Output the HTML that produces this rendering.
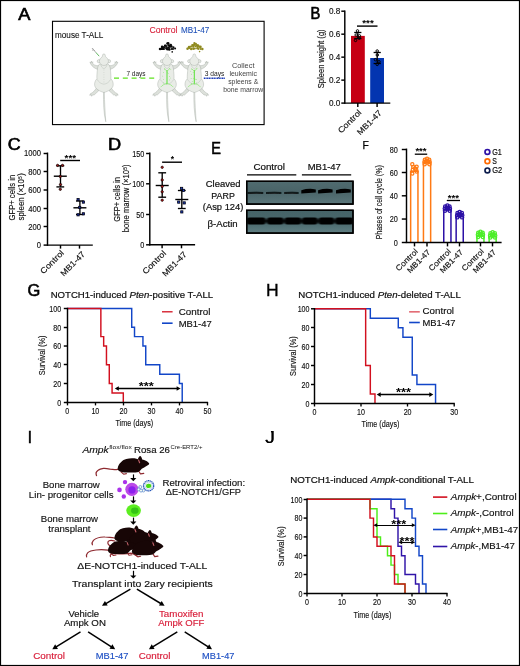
<!DOCTYPE html>
<html lang="en">
<head>
<meta charset="utf-8">
<title>Figure</title>
<style>
html,body{margin:0;padding:0;background:#fff;}
body{width:520px;height:666px;overflow:hidden;}
svg{display:block;font-family:'Liberation Sans', sans-serif;}
text{white-space:pre;}
</style>
</head>
<body>
<svg width="520" height="666" viewBox="0 0 520 666">
<rect x="0" y="0" width="520" height="666" fill="#fff"/>
<text textLength="12.15" lengthAdjust="spacingAndGlyphs" x="18.30" y="20.00" font-size="17" stroke="#000" stroke-width="0.65">A</text>
<rect x="52.50" y="21.30" width="211.60" height="103.30" fill="none" stroke="#000" stroke-width="1.1"/>
<text textLength="48.40" lengthAdjust="spacingAndGlyphs" x="55.00" y="38.00" font-size="8.2" fill="#111" stroke="#111" stroke-width="0.1">mouse T-ALL</text>
<text textLength="28.10" lengthAdjust="spacingAndGlyphs" x="149.40" y="33.00" font-size="8.2" fill="#d8203a" stroke="#d8203a" stroke-width="0.1">Control</text>
<text textLength="28.30" lengthAdjust="spacingAndGlyphs" x="181.00" y="32.80" font-size="8.2" fill="#1d4fb8" stroke="#1d4fb8" stroke-width="0.1">MB1-47</text>
<text textLength="19.10" lengthAdjust="spacingAndGlyphs" x="126.40" y="76.20" font-size="6.3" fill="#222">7 days</text>
<text textLength="19.60" lengthAdjust="spacingAndGlyphs" x="204.70" y="75.80" font-size="6.3" fill="#222">3 days</text>
<text textLength="22.50" lengthAdjust="spacingAndGlyphs" x="231.95" y="67.90" font-size="6.3" fill="#444">Collect</text>
<text textLength="27.50" lengthAdjust="spacingAndGlyphs" x="229.45" y="75.85" font-size="6.3" fill="#444">leukemic</text>
<text textLength="30.00" lengthAdjust="spacingAndGlyphs" x="228.20" y="83.80" font-size="6.3" fill="#444">spleens &amp;</text>
<text textLength="40.00" lengthAdjust="spacingAndGlyphs" x="223.20" y="91.75" font-size="6.3" fill="#444">bone marrow</text>
<line x1="114" y1="78.1" x2="157" y2="78.1" stroke="#5fe21e" stroke-width="1.3" stroke-dasharray="5 3.8"/>
<line x1="203.8" y1="78.2" x2="225.2" y2="78.2" stroke="#1838b8" stroke-width="1.4" stroke-dasharray="1.2 0.45"/>
<g transform="translate(103.90 53.60)" fill="#e9ece7" stroke="#9ea79e" stroke-width="0.4" stroke-linejoin="round">
<path d="M-0.4 38.3 C-0.55 48 -0.3 60 1.9 68.2 C1.3 60 0.5 48 0.45 38.3 Z"/>
<path d="M-7.6 34.6 C-9.0 36.8 -10.5 38.8 -13.6 40.2 L-14.2 41.7 L-12.6 41.3 L-12.2 42.7 L-11.2 41.2 L-9.8 41.4 C-8.5 40.2 -7.0 38.8 -5.2 37.2 Z" fill="#dde1db"/>
<path d="M7.6 34.6 C9.0 36.8 10.5 38.8 13.6 40.2 L14.2 41.7 L12.6 41.3 L12.2 42.7 L11.2 41.2 L9.8 41.4 C8.5 40.2 7.0 38.8 5.2 37.2 Z" fill="#dde1db"/>
<path d="M-4.2 11.4 C-6.5 12.6 -9.0 12.2 -11.2 9.9 L-11.1 8.2 L-11.9 9.0 L-12.4 7.4 L-13.0 9.0 L-14.0 8.4 L-13.2 10.4 C-11.5 13.2 -9.0 15 -6.2 15.8 Z" fill="#dde1db"/>
<path d="M4.2 11.4 C6.5 12.6 9.0 12.2 11.2 9.9 L11.1 8.2 L11.9 9.0 L12.4 7.4 L13.0 9.0 L14.0 8.4 L13.2 10.4 C11.5 13.2 9.0 15 6.2 15.8 Z" fill="#dde1db"/>
<path d="M-3.4 9.6 C-5 10.8 -6.1 12.6 -6.4 15 C-6.8 19 -7.2 22.5 -7.0 25.2 C-8.9 27 -9.6 29.6 -9.2 32 C-8.6 35.2 -4.6 37.6 0 38.9 C4.6 37.6 8.6 35.2 9.2 32 C9.6 29.6 8.9 27 7.0 25.2 C7.2 22.5 6.8 19 6.4 15 C6.1 12.6 5 10.8 3.4 9.6 Z"/>
<ellipse cx="-5.0" cy="7.6" rx="1.7" ry="1.6"/><ellipse cx="5.0" cy="7.6" rx="1.7" ry="1.6"/>
<path d="M0 0.3 C0.9 0.3 1.4 0.9 1.4 1.7 C1.4 2.3 1.2 2.7 1.6 3.1 C3.4 4.2 4.6 6 4.5 8 C4.2 10.4 2.4 11.8 0 11.9 C-2.4 11.8 -4.2 10.4 -4.5 8 C-4.6 6 -3.4 4.2 -1.6 3.1 C-1.2 2.7 -1.4 2.3 -1.4 1.7 C-1.4 0.9 -0.9 0.3 0 0.3 Z"/>
<path d="M-3.3 10.4 C-2.9 13 -1.5 14.6 0 15 C1.5 14.6 2.9 13 3.3 10.4 M-6.9 25.6 C-5 28.8 -3 30.2 0 30.6 C3 30.2 5 28.8 6.9 25.6" fill="none" stroke-width="0.3"/>
<path d="M0 16 L0 30" fill="none" stroke-width="0.3" stroke-dasharray="0.8 1.6"/>
</g>
<g transform="translate(167.00 53.60)" fill="#e9ece7" stroke="#9ea79e" stroke-width="0.4" stroke-linejoin="round">
<path d="M-0.4 38.3 C-0.55 48 -0.3 60 1.9 68.2 C1.3 60 0.5 48 0.45 38.3 Z"/>
<path d="M-7.6 34.6 C-9.0 36.8 -10.5 38.8 -13.6 40.2 L-14.2 41.7 L-12.6 41.3 L-12.2 42.7 L-11.2 41.2 L-9.8 41.4 C-8.5 40.2 -7.0 38.8 -5.2 37.2 Z" fill="#dde1db"/>
<path d="M7.6 34.6 C9.0 36.8 10.5 38.8 13.6 40.2 L14.2 41.7 L12.6 41.3 L12.2 42.7 L11.2 41.2 L9.8 41.4 C8.5 40.2 7.0 38.8 5.2 37.2 Z" fill="#dde1db"/>
<path d="M-4.2 11.4 C-6.5 12.6 -9.0 12.2 -11.2 9.9 L-11.1 8.2 L-11.9 9.0 L-12.4 7.4 L-13.0 9.0 L-14.0 8.4 L-13.2 10.4 C-11.5 13.2 -9.0 15 -6.2 15.8 Z" fill="#dde1db"/>
<path d="M4.2 11.4 C6.5 12.6 9.0 12.2 11.2 9.9 L11.1 8.2 L11.9 9.0 L12.4 7.4 L13.0 9.0 L14.0 8.4 L13.2 10.4 C11.5 13.2 9.0 15 6.2 15.8 Z" fill="#dde1db"/>
<path d="M-3.4 9.6 C-5 10.8 -6.1 12.6 -6.4 15 C-6.8 19 -7.2 22.5 -7.0 25.2 C-8.9 27 -9.6 29.6 -9.2 32 C-8.6 35.2 -4.6 37.6 0 38.9 C4.6 37.6 8.6 35.2 9.2 32 C9.6 29.6 8.9 27 7.0 25.2 C7.2 22.5 6.8 19 6.4 15 C6.1 12.6 5 10.8 3.4 9.6 Z"/>
<ellipse cx="-5.0" cy="7.6" rx="1.7" ry="1.6"/><ellipse cx="5.0" cy="7.6" rx="1.7" ry="1.6"/>
<path d="M0 0.3 C0.9 0.3 1.4 0.9 1.4 1.7 C1.4 2.3 1.2 2.7 1.6 3.1 C3.4 4.2 4.6 6 4.5 8 C4.2 10.4 2.4 11.8 0 11.9 C-2.4 11.8 -4.2 10.4 -4.5 8 C-4.6 6 -3.4 4.2 -1.6 3.1 C-1.2 2.7 -1.4 2.3 -1.4 1.7 C-1.4 0.9 -0.9 0.3 0 0.3 Z"/>
<path d="M-3.3 10.4 C-2.9 13 -1.5 14.6 0 15 C1.5 14.6 2.9 13 3.3 10.4 M-6.9 25.6 C-5 28.8 -3 30.2 0 30.6 C3 30.2 5 28.8 6.9 25.6" fill="none" stroke-width="0.3"/>
<path d="M0 16.6 L0 30.2" fill="none" stroke="#46e020" stroke-width="0.9"/>
<path d="M0 30 C-2.5 30.4 -4.6 31.4 -6.4 33.6 M0 30 C2.5 30.4 4.6 31.4 6.4 33.6 M0 17.6 L-3.0 14.8 M0 17.6 L3.0 14.8" fill="none" stroke="#66e644" stroke-width="0.5"/>
<circle cx="-2.3" cy="15.5" r="0.33" fill="#4fe02a" stroke="none"/>
<circle cx="-0.6" cy="30.4" r="0.33" fill="#4fe02a" stroke="none"/>
<circle cx="2.3" cy="26.3" r="0.33" fill="#4fe02a" stroke="none"/>
<circle cx="2.6" cy="22.8" r="0.33" fill="#4fe02a" stroke="none"/>
<circle cx="3.6" cy="24.4" r="0.33" fill="#4fe02a" stroke="none"/>
<circle cx="-0.1" cy="29.4" r="0.33" fill="#4fe02a" stroke="none"/>
<circle cx="-3.7" cy="26.0" r="0.33" fill="#4fe02a" stroke="none"/>
<circle cx="-3.4" cy="19.1" r="0.33" fill="#4fe02a" stroke="none"/>
<circle cx="2.4" cy="14.9" r="0.33" fill="#4fe02a" stroke="none"/>
<circle cx="0.2" cy="18.9" r="0.33" fill="#4fe02a" stroke="none"/>
<circle cx="-3.5" cy="29.3" r="0.33" fill="#4fe02a" stroke="none"/>
<circle cx="-4.2" cy="22.5" r="0.33" fill="#4fe02a" stroke="none"/>
<circle cx="3.8" cy="15.6" r="0.33" fill="#4fe02a" stroke="none"/>
<circle cx="1.1" cy="20.1" r="0.33" fill="#4fe02a" stroke="none"/>
</g>
<g transform="translate(194.30 53.60)" fill="#e9ece7" stroke="#9ea79e" stroke-width="0.4" stroke-linejoin="round">
<path d="M-0.4 38.3 C-0.55 48 -0.3 60 1.9 68.2 C1.3 60 0.5 48 0.45 38.3 Z"/>
<path d="M-7.6 34.6 C-9.0 36.8 -10.5 38.8 -13.6 40.2 L-14.2 41.7 L-12.6 41.3 L-12.2 42.7 L-11.2 41.2 L-9.8 41.4 C-8.5 40.2 -7.0 38.8 -5.2 37.2 Z" fill="#dde1db"/>
<path d="M7.6 34.6 C9.0 36.8 10.5 38.8 13.6 40.2 L14.2 41.7 L12.6 41.3 L12.2 42.7 L11.2 41.2 L9.8 41.4 C8.5 40.2 7.0 38.8 5.2 37.2 Z" fill="#dde1db"/>
<path d="M-4.2 11.4 C-6.5 12.6 -9.0 12.2 -11.2 9.9 L-11.1 8.2 L-11.9 9.0 L-12.4 7.4 L-13.0 9.0 L-14.0 8.4 L-13.2 10.4 C-11.5 13.2 -9.0 15 -6.2 15.8 Z" fill="#dde1db"/>
<path d="M4.2 11.4 C6.5 12.6 9.0 12.2 11.2 9.9 L11.1 8.2 L11.9 9.0 L12.4 7.4 L13.0 9.0 L14.0 8.4 L13.2 10.4 C11.5 13.2 9.0 15 6.2 15.8 Z" fill="#dde1db"/>
<path d="M-3.4 9.6 C-5 10.8 -6.1 12.6 -6.4 15 C-6.8 19 -7.2 22.5 -7.0 25.2 C-8.9 27 -9.6 29.6 -9.2 32 C-8.6 35.2 -4.6 37.6 0 38.9 C4.6 37.6 8.6 35.2 9.2 32 C9.6 29.6 8.9 27 7.0 25.2 C7.2 22.5 6.8 19 6.4 15 C6.1 12.6 5 10.8 3.4 9.6 Z"/>
<ellipse cx="-5.0" cy="7.6" rx="1.7" ry="1.6"/><ellipse cx="5.0" cy="7.6" rx="1.7" ry="1.6"/>
<path d="M0 0.3 C0.9 0.3 1.4 0.9 1.4 1.7 C1.4 2.3 1.2 2.7 1.6 3.1 C3.4 4.2 4.6 6 4.5 8 C4.2 10.4 2.4 11.8 0 11.9 C-2.4 11.8 -4.2 10.4 -4.5 8 C-4.6 6 -3.4 4.2 -1.6 3.1 C-1.2 2.7 -1.4 2.3 -1.4 1.7 C-1.4 0.9 -0.9 0.3 0 0.3 Z"/>
<path d="M-3.3 10.4 C-2.9 13 -1.5 14.6 0 15 C1.5 14.6 2.9 13 3.3 10.4 M-6.9 25.6 C-5 28.8 -3 30.2 0 30.6 C3 30.2 5 28.8 6.9 25.6" fill="none" stroke-width="0.3"/>
<path d="M0 16.6 L0 30.2" fill="none" stroke="#46e020" stroke-width="0.9"/>
<path d="M0 30 C-2.5 30.4 -4.6 31.4 -6.4 33.6 M0 30 C2.5 30.4 4.6 31.4 6.4 33.6 M0 17.6 L-3.0 14.8 M0 17.6 L3.0 14.8" fill="none" stroke="#66e644" stroke-width="0.5"/>
<circle cx="2.6" cy="15.1" r="0.33" fill="#4fe02a" stroke="none"/>
<circle cx="-2.9" cy="20.6" r="0.33" fill="#4fe02a" stroke="none"/>
<circle cx="-2.1" cy="28.1" r="0.33" fill="#4fe02a" stroke="none"/>
<circle cx="2.0" cy="29.3" r="0.33" fill="#4fe02a" stroke="none"/>
<circle cx="0.4" cy="30.9" r="0.33" fill="#4fe02a" stroke="none"/>
<circle cx="-1.1" cy="24.8" r="0.33" fill="#4fe02a" stroke="none"/>
<circle cx="1.1" cy="25.6" r="0.33" fill="#4fe02a" stroke="none"/>
<circle cx="-3.2" cy="24.7" r="0.33" fill="#4fe02a" stroke="none"/>
<circle cx="-2.4" cy="15.8" r="0.33" fill="#4fe02a" stroke="none"/>
<circle cx="0.5" cy="16.5" r="0.33" fill="#4fe02a" stroke="none"/>
<circle cx="-1.2" cy="18.7" r="0.33" fill="#4fe02a" stroke="none"/>
<circle cx="-3.5" cy="17.6" r="0.33" fill="#4fe02a" stroke="none"/>
<circle cx="2.2" cy="26.1" r="0.33" fill="#4fe02a" stroke="none"/>
<circle cx="-2.8" cy="29.8" r="0.33" fill="#4fe02a" stroke="none"/>
</g>
<line x1="92.30" y1="48.40" x2="96.20" y2="52.80" stroke="#333" stroke-width="0.7" stroke-dasharray="1.4 0.6"/>
<line x1="96.00" y1="52.60" x2="99.20" y2="56.20" stroke="#3aa83a" stroke-width="0.8"/>
<line x1="93.60" y1="49.20" x2="92.20" y2="50.40" stroke="#555" stroke-width="0.5"/>
<g fill="#0a0a0a">
<circle cx="160.1" cy="49.0" r="1.32"/>
<circle cx="162.0" cy="48.9" r="1.21"/>
<circle cx="163.7" cy="48.9" r="1.22"/>
<circle cx="166.2" cy="48.5" r="1.11"/>
<circle cx="167.4" cy="49.2" r="1.24"/>
<circle cx="169.3" cy="49.4" r="1.34"/>
<circle cx="171.8" cy="49.0" r="1.06"/>
<circle cx="173.0" cy="48.9" r="1.02"/>
<circle cx="175.1" cy="48.6" r="1.01"/>
<circle cx="162.1" cy="46.9" r="1.29"/>
<circle cx="164.0" cy="47.1" r="1.17"/>
<circle cx="166.1" cy="47.0" r="1.10"/>
<circle cx="168.3" cy="47.5" r="1.29"/>
<circle cx="169.9" cy="46.8" r="1.08"/>
<circle cx="171.4" cy="46.6" r="1.27"/>
<circle cx="173.4" cy="47.3" r="1.14"/>
<circle cx="164.9" cy="45.6" r="1.00"/>
<circle cx="165.8" cy="45.7" r="1.16"/>
<circle cx="168.3" cy="45.2" r="1.03"/>
<circle cx="169.6" cy="45.6" r="1.09"/>
<circle cx="170.7" cy="45.1" r="1.34"/>
<circle cx="167.3" cy="43.4" r="1.09"/>
<circle cx="168.2" cy="43.4" r="1.28"/>
<circle cx="172.2" cy="51.9" r="0.8"/>
</g>
<g fill="#8f8a1f">
<circle cx="187.5" cy="48.8" r="1.23"/>
<circle cx="189.1" cy="48.1" r="1.13"/>
<circle cx="191.2" cy="48.9" r="1.24"/>
<circle cx="193.4" cy="48.7" r="1.23"/>
<circle cx="194.8" cy="48.5" r="1.06"/>
<circle cx="197.5" cy="48.2" r="1.29"/>
<circle cx="198.6" cy="48.8" r="1.12"/>
<circle cx="200.8" cy="48.9" r="1.01"/>
<circle cx="202.4" cy="49.0" r="1.18"/>
<circle cx="189.1" cy="47.2" r="1.33"/>
<circle cx="191.0" cy="46.6" r="1.05"/>
<circle cx="193.1" cy="46.8" r="1.06"/>
<circle cx="195.4" cy="46.3" r="1.06"/>
<circle cx="197.4" cy="46.6" r="1.15"/>
<circle cx="199.1" cy="46.7" r="1.13"/>
<circle cx="200.4" cy="46.9" r="1.34"/>
<circle cx="192.3" cy="45.2" r="1.12"/>
<circle cx="193.4" cy="45.2" r="1.24"/>
<circle cx="194.8" cy="44.7" r="1.13"/>
<circle cx="196.9" cy="45.3" r="1.18"/>
<circle cx="198.1" cy="45.3" r="1.15"/>
<circle cx="194.4" cy="43.2" r="1.15"/>
<circle cx="195.9" cy="43.8" r="1.04"/>
<circle cx="199.6" cy="51.6" r="0.8"/>
</g>
<text textLength="9.85" lengthAdjust="spacingAndGlyphs" x="310.50" y="18.60" font-size="17" stroke="#000" stroke-width="0.65">B</text>
<rect x="351.00" y="35.90" width="13.80" height="67.20" fill="#c60014"/>
<rect x="370.20" y="58.00" width="13.80" height="45.10" fill="#0335b0"/>
<line x1="344.80" y1="10.47" x2="344.80" y2="103.82" stroke="#000" stroke-width="1.45"/>
<line x1="341.30" y1="11.20" x2="344.80" y2="11.20" stroke="#000" stroke-width="1.45"/>
<text textLength="11.40" lengthAdjust="spacingAndGlyphs" x="329.00" y="14.42" font-size="9.0" fill="#111" stroke="#111" stroke-width="0.15">0.8</text>
<line x1="341.30" y1="34.18" x2="344.80" y2="34.18" stroke="#000" stroke-width="1.45"/>
<text textLength="11.40" lengthAdjust="spacingAndGlyphs" x="329.00" y="37.40" font-size="9.0" fill="#111" stroke="#111" stroke-width="0.15">0.6</text>
<line x1="341.30" y1="57.15" x2="344.80" y2="57.15" stroke="#000" stroke-width="1.45"/>
<text textLength="11.40" lengthAdjust="spacingAndGlyphs" x="329.00" y="60.37" font-size="9.0" fill="#111" stroke="#111" stroke-width="0.15">0.4</text>
<line x1="341.30" y1="80.13" x2="344.80" y2="80.13" stroke="#000" stroke-width="1.45"/>
<text textLength="11.40" lengthAdjust="spacingAndGlyphs" x="329.00" y="83.35" font-size="9.0" fill="#111" stroke="#111" stroke-width="0.15">0.2</text>
<line x1="341.30" y1="103.10" x2="344.80" y2="103.10" stroke="#000" stroke-width="1.45"/>
<text textLength="11.40" lengthAdjust="spacingAndGlyphs" x="329.00" y="106.32" font-size="9.0" fill="#111" stroke="#111" stroke-width="0.15">0.0</text>
<line x1="344.20" y1="103.10" x2="390.30" y2="103.10" stroke="#000" stroke-width="1.45"/>
<line x1="357.80" y1="103.10" x2="357.80" y2="106.90" stroke="#000" stroke-width="1.45"/>
<line x1="377.10" y1="103.10" x2="377.10" y2="106.90" stroke="#000" stroke-width="1.45"/>
<line x1="357.80" y1="32.80" x2="357.80" y2="38.60" stroke="#000" stroke-width="1.3"/>
<line x1="354.20" y1="32.50" x2="361.40" y2="32.50" stroke="#000" stroke-width="1.3"/>
<line x1="354.20" y1="38.50" x2="361.40" y2="38.50" stroke="#000" stroke-width="1.3"/>
<line x1="377.20" y1="52.80" x2="377.20" y2="63.40" stroke="#000" stroke-width="1.3"/>
<line x1="373.60" y1="52.50" x2="380.80" y2="52.50" stroke="#000" stroke-width="1.3"/>
<line x1="373.60" y1="63.50" x2="380.80" y2="63.50" stroke="#000" stroke-width="1.3"/>
<circle cx="357.50" cy="30.90" r="1.25" fill="none" stroke="#000" stroke-width="0.95"/>
<circle cx="356.20" cy="35.00" r="1.25" fill="none" stroke="#000" stroke-width="0.95"/>
<circle cx="359.40" cy="35.80" r="1.25" fill="none" stroke="#000" stroke-width="0.95"/>
<circle cx="359.30" cy="38.20" r="1.25" fill="none" stroke="#000" stroke-width="0.95"/>
<circle cx="355.50" cy="40.40" r="1.25" fill="none" stroke="#000" stroke-width="0.95"/>
<circle cx="377.20" cy="51.00" r="1.25" fill="none" stroke="#000" stroke-width="0.95"/>
<circle cx="377.30" cy="55.00" r="1.25" fill="none" stroke="#000" stroke-width="0.95"/>
<circle cx="375.40" cy="59.70" r="1.25" fill="none" stroke="#000" stroke-width="0.95"/>
<circle cx="379.00" cy="61.80" r="1.25" fill="none" stroke="#000" stroke-width="0.95"/>
<circle cx="377.20" cy="64.40" r="1.25" fill="none" stroke="#000" stroke-width="0.95"/>
<line x1="357.00" y1="26.10" x2="377.50" y2="26.10" stroke="#000" stroke-width="1.4"/>
<text textLength="11.40" lengthAdjust="spacingAndGlyphs" x="362.30" y="26.20" font-size="8.5" font-weight="bold">***</text>
<text textLength="58.80" lengthAdjust="spacingAndGlyphs" transform="translate(323.50 58.80) rotate(-90)" x="-29.40" y="0" font-size="9.4" fill="#111" stroke="#111" stroke-width="0.15">Spleen weight (g)</text>
<text textLength="29.40" lengthAdjust="spacingAndGlyphs" transform="translate(362.00 113.00) rotate(-45)" x="-29.40" y="0" font-size="8.2" fill="#111" stroke="#111" stroke-width="0.15">Control</text>
<text textLength="31.00" lengthAdjust="spacingAndGlyphs" transform="translate(382.20 113.60) rotate(-45)" x="-31.00" y="0" font-size="8.2" fill="#111" stroke="#111" stroke-width="0.15">MB1-47</text>
<text textLength="12.85" lengthAdjust="spacingAndGlyphs" x="7.70" y="149.60" font-size="17" stroke="#000" stroke-width="0.65">C</text>
<line x1="47.50" y1="152.58" x2="47.50" y2="245.82" stroke="#000" stroke-width="1.45"/>
<line x1="43.60" y1="153.50" x2="47.60" y2="153.50" stroke="#000" stroke-width="1.45"/>
<text textLength="17.00" lengthAdjust="spacingAndGlyphs" x="24.00" y="156.45" font-size="8.8" fill="#111" stroke="#111" stroke-width="0.15">1000</text>
<line x1="43.60" y1="171.50" x2="47.60" y2="171.50" stroke="#000" stroke-width="1.45"/>
<text textLength="12.75" lengthAdjust="spacingAndGlyphs" x="28.25" y="174.80" font-size="8.8" fill="#111" stroke="#111" stroke-width="0.15">800</text>
<line x1="43.60" y1="190.00" x2="47.60" y2="190.00" stroke="#000" stroke-width="1.45"/>
<text textLength="12.75" lengthAdjust="spacingAndGlyphs" x="28.25" y="193.15" font-size="8.8" fill="#111" stroke="#111" stroke-width="0.15">600</text>
<line x1="43.60" y1="208.50" x2="47.60" y2="208.50" stroke="#000" stroke-width="1.45"/>
<text textLength="12.75" lengthAdjust="spacingAndGlyphs" x="28.25" y="211.55" font-size="8.8" fill="#111" stroke="#111" stroke-width="0.15">400</text>
<line x1="43.60" y1="226.50" x2="47.60" y2="226.50" stroke="#000" stroke-width="1.45"/>
<text textLength="12.75" lengthAdjust="spacingAndGlyphs" x="28.25" y="229.90" font-size="8.8" fill="#111" stroke="#111" stroke-width="0.15">200</text>
<line x1="43.60" y1="245.10" x2="47.60" y2="245.10" stroke="#000" stroke-width="1.45"/>
<text textLength="4.25" lengthAdjust="spacingAndGlyphs" x="36.75" y="248.25" font-size="8.8" fill="#111" stroke="#111" stroke-width="0.15">0</text>
<line x1="47.00" y1="245.10" x2="92.80" y2="245.10" stroke="#000" stroke-width="1.45"/>
<line x1="60.50" y1="245.10" x2="60.50" y2="248.60" stroke="#000" stroke-width="1.45"/>
<line x1="79.50" y1="245.10" x2="79.50" y2="248.60" stroke="#000" stroke-width="1.45"/>
<line x1="60.50" y1="165.80" x2="60.50" y2="186.90" stroke="#000" stroke-width="1.35"/>
<line x1="56.40" y1="165.80" x2="64.20" y2="165.80" stroke="#000" stroke-width="1.35"/>
<line x1="56.40" y1="186.90" x2="64.20" y2="186.90" stroke="#000" stroke-width="1.35"/>
<line x1="53.80" y1="176.20" x2="66.80" y2="176.20" stroke="#000" stroke-width="1.4"/>
<circle cx="57.60" cy="165.40" r="1.15" fill="#a01818" stroke="#140303" stroke-width="0.8"/>
<circle cx="62.50" cy="165.40" r="1.15" fill="#a01818" stroke="#140303" stroke-width="0.8"/>
<circle cx="60.30" cy="176.40" r="1.15" fill="#a01818" stroke="#140303" stroke-width="0.8"/>
<circle cx="60.50" cy="184.60" r="1.15" fill="#a01818" stroke="#140303" stroke-width="0.8"/>
<circle cx="60.30" cy="189.30" r="1.15" fill="#a01818" stroke="#140303" stroke-width="0.8"/>
<line x1="79.90" y1="201.00" x2="79.90" y2="214.60" stroke="#000" stroke-width="1.35"/>
<line x1="76.00" y1="201.00" x2="83.80" y2="201.00" stroke="#000" stroke-width="1.35"/>
<line x1="76.00" y1="214.50" x2="83.80" y2="214.50" stroke="#000" stroke-width="1.35"/>
<line x1="73.40" y1="207.80" x2="86.40" y2="207.80" stroke="#000" stroke-width="1.4"/>
<rect x="77.00" y="198.50" width="2.20" height="2.20" fill="#1a2fa0" stroke="#030314" stroke-width="0.8"/>
<rect x="82.30" y="201.00" width="2.20" height="2.20" fill="#1a2fa0" stroke="#030314" stroke-width="0.8"/>
<rect x="78.60" y="206.30" width="2.20" height="2.20" fill="#1a2fa0" stroke="#030314" stroke-width="0.8"/>
<rect x="77.00" y="213.70" width="2.20" height="2.20" fill="#1a2fa0" stroke="#030314" stroke-width="0.8"/>
<rect x="82.30" y="212.70" width="2.20" height="2.20" fill="#1a2fa0" stroke="#030314" stroke-width="0.8"/>
<line x1="60.20" y1="160.50" x2="80.00" y2="160.50" stroke="#000" stroke-width="1.4"/>
<text textLength="11.40" lengthAdjust="spacingAndGlyphs" x="64.60" y="160.60" font-size="8.5" font-weight="bold">***</text>
<text textLength="45.70" lengthAdjust="spacingAndGlyphs" transform="translate(15.20 197.60) rotate(-90)" x="-22.85" y="0" font-size="9.2" fill="#111" stroke="#111" stroke-width="0.15">GFP+ cells in</text>
<text textLength="47.30" lengthAdjust="spacingAndGlyphs" transform="translate(24.00 196.90) rotate(-90)" x="-23.65" y="0" font-size="9.2" fill="#111" stroke="#111" stroke-width="0.15">spleen (×10⁵)</text>
<text textLength="29.40" lengthAdjust="spacingAndGlyphs" transform="translate(64.40 253.60) rotate(-45)" x="-29.40" y="0" font-size="8.2" fill="#111" stroke="#111" stroke-width="0.15">Control</text>
<text textLength="31.00" lengthAdjust="spacingAndGlyphs" transform="translate(85.60 254.80) rotate(-45)" x="-31.00" y="0" font-size="8.2" fill="#111" stroke="#111" stroke-width="0.15">MB1-47</text>
<text textLength="13.15" lengthAdjust="spacingAndGlyphs" x="108.10" y="149.60" font-size="17" stroke="#000" stroke-width="0.65">D</text>
<line x1="149.80" y1="152.58" x2="149.80" y2="245.53" stroke="#000" stroke-width="1.45"/>
<line x1="146.10" y1="153.50" x2="149.80" y2="153.50" stroke="#000" stroke-width="1.45"/>
<text textLength="12.15" lengthAdjust="spacingAndGlyphs" x="132.25" y="156.52" font-size="9.0" fill="#111" stroke="#111" stroke-width="0.15">150</text>
<line x1="146.10" y1="183.80" x2="149.80" y2="183.80" stroke="#000" stroke-width="1.45"/>
<text textLength="12.15" lengthAdjust="spacingAndGlyphs" x="132.25" y="187.02" font-size="9.0" fill="#111" stroke="#111" stroke-width="0.15">100</text>
<line x1="146.10" y1="214.50" x2="149.80" y2="214.50" stroke="#000" stroke-width="1.45"/>
<text textLength="8.10" lengthAdjust="spacingAndGlyphs" x="136.30" y="217.52" font-size="9.0" fill="#111" stroke="#111" stroke-width="0.15">50</text>
<line x1="146.10" y1="244.80" x2="149.80" y2="244.80" stroke="#000" stroke-width="1.45"/>
<text textLength="4.05" lengthAdjust="spacingAndGlyphs" x="140.35" y="248.02" font-size="9.0" fill="#111" stroke="#111" stroke-width="0.15">0</text>
<line x1="149.20" y1="244.80" x2="195.10" y2="244.80" stroke="#000" stroke-width="1.45"/>
<line x1="162.10" y1="244.80" x2="162.10" y2="248.30" stroke="#000" stroke-width="1.45"/>
<line x1="181.50" y1="244.80" x2="181.50" y2="248.30" stroke="#000" stroke-width="1.45"/>
<line x1="162.20" y1="172.80" x2="162.20" y2="197.20" stroke="#000" stroke-width="1.35"/>
<line x1="158.30" y1="172.80" x2="166.10" y2="172.80" stroke="#000" stroke-width="1.35"/>
<line x1="158.30" y1="197.20" x2="166.10" y2="197.20" stroke="#000" stroke-width="1.35"/>
<line x1="155.70" y1="185.50" x2="168.70" y2="185.50" stroke="#000" stroke-width="1.4"/>
<circle cx="162.20" cy="167.30" r="1.15" fill="#c81818" stroke="#140303" stroke-width="0.8"/>
<circle cx="162.20" cy="180.00" r="1.15" fill="#c81818" stroke="#140303" stroke-width="0.8"/>
<circle cx="162.20" cy="186.50" r="1.15" fill="#c81818" stroke="#140303" stroke-width="0.8"/>
<circle cx="162.20" cy="191.80" r="1.15" fill="#c81818" stroke="#140303" stroke-width="0.8"/>
<circle cx="162.20" cy="200.20" r="1.15" fill="#c81818" stroke="#140303" stroke-width="0.8"/>
<line x1="181.80" y1="190.40" x2="181.80" y2="208.40" stroke="#000" stroke-width="1.35"/>
<line x1="177.90" y1="190.50" x2="185.70" y2="190.50" stroke="#000" stroke-width="1.35"/>
<line x1="177.90" y1="208.50" x2="185.70" y2="208.50" stroke="#000" stroke-width="1.35"/>
<line x1="175.30" y1="199.50" x2="188.30" y2="199.50" stroke="#000" stroke-width="1.4"/>
<rect x="180.50" y="187.30" width="2.20" height="2.20" fill="#1a3fc0" stroke="#030314" stroke-width="0.8"/>
<rect x="182.40" y="189.30" width="2.20" height="2.20" fill="#1a3fc0" stroke="#030314" stroke-width="0.8"/>
<rect x="177.60" y="201.00" width="2.20" height="2.20" fill="#1a3fc0" stroke="#030314" stroke-width="0.8"/>
<rect x="183.10" y="201.80" width="2.20" height="2.20" fill="#1a3fc0" stroke="#030314" stroke-width="0.8"/>
<rect x="180.70" y="210.80" width="2.20" height="2.20" fill="#1a3fc0" stroke="#030314" stroke-width="0.8"/>
<line x1="162.10" y1="162.20" x2="182.00" y2="162.20" stroke="#000" stroke-width="1.4"/>
<text text-anchor="middle" x="172.30" y="162.20" font-size="8.5" font-weight="bold">*</text>
<text textLength="44.50" lengthAdjust="spacingAndGlyphs" transform="translate(120.40 199.40) rotate(-90)" x="-22.25" y="0" font-size="9.2" fill="#111" stroke="#111" stroke-width="0.15">GFP+ cells in</text>
<text textLength="67.80" lengthAdjust="spacingAndGlyphs" transform="translate(129.00 198.30) rotate(-90)" x="-33.90" y="0" font-size="9.2" fill="#111" stroke="#111" stroke-width="0.15">bone marrow (×10⁵)</text>
<text textLength="29.40" lengthAdjust="spacingAndGlyphs" transform="translate(166.60 253.90) rotate(-45)" x="-29.40" y="0" font-size="8.2" fill="#111" stroke="#111" stroke-width="0.15">Control</text>
<text textLength="31.00" lengthAdjust="spacingAndGlyphs" transform="translate(187.30 255.00) rotate(-45)" x="-31.00" y="0" font-size="8.2" fill="#111" stroke="#111" stroke-width="0.15">MB1-47</text>
<text textLength="9.65" lengthAdjust="spacingAndGlyphs" x="211.20" y="153.80" font-size="17" stroke="#000" stroke-width="0.65">E</text>
<text textLength="31.60" lengthAdjust="spacingAndGlyphs" x="253.40" y="170.00" font-size="9.2" fill="#111" stroke="#111" stroke-width="0.2">Control</text>
<text textLength="33.20" lengthAdjust="spacingAndGlyphs" x="307.70" y="170.00" font-size="9.2" fill="#111" stroke="#111" stroke-width="0.2">MB1-47</text>
<line x1="247.00" y1="174.90" x2="296.30" y2="174.90" stroke="#000" stroke-width="1.4"/>
<line x1="301.90" y1="174.90" x2="351.20" y2="174.90" stroke="#000" stroke-width="1.4"/>
<text textLength="34.60" lengthAdjust="spacingAndGlyphs" x="205.80" y="187.40" font-size="9.4" fill="#111" stroke="#111" stroke-width="0.2">Cleaved</text>
<text textLength="23.50" lengthAdjust="spacingAndGlyphs" x="211.35" y="198.60" font-size="9.4" fill="#111" stroke="#111" stroke-width="0.2">PARP</text>
<text textLength="40.60" lengthAdjust="spacingAndGlyphs" x="202.80" y="209.80" font-size="9.4" fill="#111" stroke="#111" stroke-width="0.2">(Asp 124)</text>
<text textLength="30.00" lengthAdjust="spacingAndGlyphs" x="207.60" y="226.70" font-size="9.4" fill="#111" stroke="#111" stroke-width="0.2">β-Actin</text>
<defs><filter id="bl" x="-10%" y="-60%" width="120%" height="220%"><feGaussianBlur stdDeviation="0.7 0.5"/></filter><filter id="bl2" x="-10%" y="-60%" width="120%" height="220%"><feGaussianBlur stdDeviation="0.8 0.7"/></filter><linearGradient id="g1" x1="0" y1="0" x2="0" y2="1"><stop offset="0" stop-color="#506c70"/><stop offset="0.45" stop-color="#4a6468"/><stop offset="1" stop-color="#5b777b"/></linearGradient><linearGradient id="g2" x1="0" y1="0" x2="0" y2="1"><stop offset="0" stop-color="#466468"/><stop offset="0.5" stop-color="#48666a"/><stop offset="1" stop-color="#607f83"/></linearGradient><clipPath id="c1"><rect x="246.7" y="181.3" width="106.3" height="22.8"/></clipPath><clipPath id="c2"><rect x="246.7" y="210.3" width="106.3" height="22.8"/></clipPath></defs>
<rect x="246.70" y="181.30" width="106.30" height="22.80" fill="url(#g1)" stroke="#000" stroke-width="1.4"/>
<rect x="246.70" y="210.30" width="106.30" height="22.80" fill="url(#g2)" stroke="#000" stroke-width="1.4"/>
<g clip-path="url(#c1)" filter="url(#bl)">
<path d="M247.6 192.1 Q255.4 191.5 263.2 192.0 L263.2 194.0 Q255.4 193.6 247.6 194.1 Z" fill="#0c1414" opacity="0.95"/>
<path d="M266.0 192.1 Q273.7 191.5 281.4 192.0 L281.4 194.0 Q273.7 193.6 266.0 194.1 Z" fill="#0c1414" opacity="0.95"/>
<path d="M284.2 192.1 Q291.4 191.5 298.6 192.0 L298.6 194.0 Q291.4 193.6 284.2 194.1 Z" fill="#0c1414" opacity="0.95"/>
<path d="M301.3 190.2 Q308.6 188.0 315.8 189.4 L315.8 192.4 Q308.6 192.6 301.3 193.6 Z" fill="#020505"/>
<path d="M318.1 190.2 Q325.4 188.0 332.6 189.4 L332.6 192.4 Q325.4 192.6 318.1 193.6 Z" fill="#020505"/>
<path d="M336.0 190.2 Q343.4 188.0 350.8 189.4 L350.8 192.4 Q343.4 192.6 336.0 193.6 Z" fill="#020505"/>
</g>
<g clip-path="url(#c2)" filter="url(#bl2)">
<rect x="246.5" y="217.6" width="19.1" height="6.8" rx="2.2" fill="#010303"/>
<rect x="267.0" y="217.6" width="16.6" height="6.8" rx="2.2" fill="#010303"/>
<rect x="284.6" y="217.6" width="16.6" height="6.8" rx="2.2" fill="#010303"/>
<rect x="302.0" y="217.6" width="15.6" height="6.8" rx="2.2" fill="#010303"/>
<rect x="318.6" y="217.6" width="15.6" height="6.8" rx="2.2" fill="#010303"/>
<rect x="335.2" y="217.6" width="18.3" height="6.8" rx="2.2" fill="#010303"/>
<rect x="246.5" y="219.6" width="107" height="2.8" fill="#010303" opacity="0.75"/>
</g>
<rect x="246.70" y="181.30" width="106.30" height="22.80" fill="none" stroke="#000" stroke-width="1.4"/>
<rect x="246.70" y="210.30" width="106.30" height="22.80" fill="none" stroke="#000" stroke-width="1.4"/>
<text x="362.50" y="149.30" font-size="10.3" stroke="#000" stroke-width="0.25">F</text>
<path d="M410.65 242.3 V171.20 H417.95 V242.3" fill="#fff" stroke="#ff7a14" stroke-width="1.5"/>
<circle cx="412.30" cy="164.20" r="1.60" fill="none" stroke="#ff7a14" stroke-width="1.25"/>
<circle cx="416.60" cy="166.60" r="1.60" fill="none" stroke="#ff7a14" stroke-width="1.25"/>
<circle cx="412.80" cy="169.80" r="1.60" fill="none" stroke="#ff7a14" stroke-width="1.25"/>
<circle cx="416.60" cy="171.60" r="1.60" fill="none" stroke="#ff7a14" stroke-width="1.25"/>
<circle cx="412.30" cy="173.60" r="1.60" fill="none" stroke="#ff7a14" stroke-width="1.25"/>
<circle cx="415.00" cy="168.50" r="1.60" fill="none" stroke="#ff7a14" stroke-width="1.25"/>
<circle cx="413.20" cy="167.00" r="1.60" fill="none" stroke="#ff7a14" stroke-width="1.25"/>
<circle cx="416.20" cy="169.40" r="1.60" fill="none" stroke="#ff7a14" stroke-width="1.25"/>
<path d="M423.45 242.3 V162.20 H430.65 V242.3" fill="#fff" stroke="#ff7a14" stroke-width="1.5"/>
<circle cx="424.85" cy="159.80" r="1.60" fill="none" stroke="#ff7a14" stroke-width="1.25"/>
<circle cx="427.05" cy="158.80" r="1.60" fill="none" stroke="#ff7a14" stroke-width="1.25"/>
<circle cx="429.25" cy="159.80" r="1.60" fill="none" stroke="#ff7a14" stroke-width="1.25"/>
<circle cx="424.45" cy="162.00" r="1.60" fill="none" stroke="#ff7a14" stroke-width="1.25"/>
<circle cx="426.25" cy="161.00" r="1.60" fill="none" stroke="#ff7a14" stroke-width="1.25"/>
<circle cx="428.05" cy="161.20" r="1.60" fill="none" stroke="#ff7a14" stroke-width="1.25"/>
<circle cx="429.65" cy="162.00" r="1.60" fill="none" stroke="#ff7a14" stroke-width="1.25"/>
<circle cx="424.65" cy="164.20" r="1.60" fill="none" stroke="#ff7a14" stroke-width="1.25"/>
<circle cx="429.45" cy="164.20" r="1.60" fill="none" stroke="#ff7a14" stroke-width="1.25"/>
<circle cx="427.05" cy="162.60" r="1.60" fill="none" stroke="#ff7a14" stroke-width="1.25"/>
<path d="M443.75 242.3 V209.80 H450.95 V242.3" fill="#fff" stroke="#2c10a6" stroke-width="1.5"/>
<circle cx="445.15" cy="206.40" r="1.60" fill="none" stroke="#2c10a6" stroke-width="1.25"/>
<circle cx="447.35" cy="205.40" r="1.60" fill="none" stroke="#2c10a6" stroke-width="1.25"/>
<circle cx="449.55" cy="206.40" r="1.60" fill="none" stroke="#2c10a6" stroke-width="1.25"/>
<circle cx="444.75" cy="208.60" r="1.60" fill="none" stroke="#2c10a6" stroke-width="1.25"/>
<circle cx="446.55" cy="207.60" r="1.60" fill="none" stroke="#2c10a6" stroke-width="1.25"/>
<circle cx="448.35" cy="207.80" r="1.60" fill="none" stroke="#2c10a6" stroke-width="1.25"/>
<circle cx="449.95" cy="208.60" r="1.60" fill="none" stroke="#2c10a6" stroke-width="1.25"/>
<circle cx="444.95" cy="210.80" r="1.60" fill="none" stroke="#2c10a6" stroke-width="1.25"/>
<circle cx="449.75" cy="210.80" r="1.60" fill="none" stroke="#2c10a6" stroke-width="1.25"/>
<circle cx="447.35" cy="209.20" r="1.60" fill="none" stroke="#2c10a6" stroke-width="1.25"/>
<path d="M456.15 242.3 V216.20 H463.25 V242.3" fill="#fff" stroke="#2c10a6" stroke-width="1.5"/>
<circle cx="457.50" cy="213.00" r="1.60" fill="none" stroke="#2c10a6" stroke-width="1.25"/>
<circle cx="459.70" cy="212.00" r="1.60" fill="none" stroke="#2c10a6" stroke-width="1.25"/>
<circle cx="461.90" cy="213.00" r="1.60" fill="none" stroke="#2c10a6" stroke-width="1.25"/>
<circle cx="457.10" cy="215.20" r="1.60" fill="none" stroke="#2c10a6" stroke-width="1.25"/>
<circle cx="458.90" cy="214.20" r="1.60" fill="none" stroke="#2c10a6" stroke-width="1.25"/>
<circle cx="460.70" cy="214.40" r="1.60" fill="none" stroke="#2c10a6" stroke-width="1.25"/>
<circle cx="462.30" cy="215.20" r="1.60" fill="none" stroke="#2c10a6" stroke-width="1.25"/>
<circle cx="457.30" cy="217.40" r="1.60" fill="none" stroke="#2c10a6" stroke-width="1.25"/>
<circle cx="462.10" cy="217.40" r="1.60" fill="none" stroke="#2c10a6" stroke-width="1.25"/>
<circle cx="459.70" cy="215.80" r="1.60" fill="none" stroke="#2c10a6" stroke-width="1.25"/>
<path d="M476.95 242.3 V236.00 H483.95 V242.3" fill="#fff" stroke="#4dee2a" stroke-width="1.5"/>
<circle cx="478.25" cy="232.60" r="1.60" fill="none" stroke="#4dee2a" stroke-width="1.25"/>
<circle cx="480.45" cy="231.60" r="1.60" fill="none" stroke="#4dee2a" stroke-width="1.25"/>
<circle cx="482.65" cy="232.60" r="1.60" fill="none" stroke="#4dee2a" stroke-width="1.25"/>
<circle cx="477.85" cy="234.80" r="1.60" fill="none" stroke="#4dee2a" stroke-width="1.25"/>
<circle cx="479.65" cy="233.80" r="1.60" fill="none" stroke="#4dee2a" stroke-width="1.25"/>
<circle cx="481.45" cy="234.00" r="1.60" fill="none" stroke="#4dee2a" stroke-width="1.25"/>
<circle cx="483.05" cy="234.80" r="1.60" fill="none" stroke="#4dee2a" stroke-width="1.25"/>
<circle cx="478.05" cy="237.00" r="1.60" fill="none" stroke="#4dee2a" stroke-width="1.25"/>
<circle cx="482.85" cy="237.00" r="1.60" fill="none" stroke="#4dee2a" stroke-width="1.25"/>
<circle cx="480.45" cy="235.40" r="1.60" fill="none" stroke="#4dee2a" stroke-width="1.25"/>
<path d="M489.15 242.3 V236.60 H496.15 V242.3" fill="#fff" stroke="#4dee2a" stroke-width="1.5"/>
<circle cx="490.45" cy="233.20" r="1.60" fill="none" stroke="#4dee2a" stroke-width="1.25"/>
<circle cx="492.65" cy="232.20" r="1.60" fill="none" stroke="#4dee2a" stroke-width="1.25"/>
<circle cx="494.85" cy="233.20" r="1.60" fill="none" stroke="#4dee2a" stroke-width="1.25"/>
<circle cx="490.05" cy="235.40" r="1.60" fill="none" stroke="#4dee2a" stroke-width="1.25"/>
<circle cx="491.85" cy="234.40" r="1.60" fill="none" stroke="#4dee2a" stroke-width="1.25"/>
<circle cx="493.65" cy="234.60" r="1.60" fill="none" stroke="#4dee2a" stroke-width="1.25"/>
<circle cx="495.25" cy="235.40" r="1.60" fill="none" stroke="#4dee2a" stroke-width="1.25"/>
<circle cx="490.25" cy="237.60" r="1.60" fill="none" stroke="#4dee2a" stroke-width="1.25"/>
<circle cx="495.05" cy="237.60" r="1.60" fill="none" stroke="#4dee2a" stroke-width="1.25"/>
<circle cx="492.65" cy="236.00" r="1.60" fill="none" stroke="#4dee2a" stroke-width="1.25"/>
<line x1="406.50" y1="148.58" x2="406.50" y2="243.03" stroke="#000" stroke-width="1.45"/>
<line x1="401.80" y1="149.50" x2="406.40" y2="149.50" stroke="#000" stroke-width="1.45"/>
<text textLength="8.10" lengthAdjust="spacingAndGlyphs" x="389.80" y="152.52" font-size="9.0" fill="#111" stroke="#111" stroke-width="0.15">80</text>
<line x1="401.80" y1="172.50" x2="406.40" y2="172.50" stroke="#000" stroke-width="1.45"/>
<text textLength="8.10" lengthAdjust="spacingAndGlyphs" x="389.80" y="175.77" font-size="9.0" fill="#111" stroke="#111" stroke-width="0.15">60</text>
<line x1="401.80" y1="195.80" x2="406.40" y2="195.80" stroke="#000" stroke-width="1.45"/>
<text textLength="8.10" lengthAdjust="spacingAndGlyphs" x="389.80" y="199.02" font-size="9.0" fill="#111" stroke="#111" stroke-width="0.15">40</text>
<line x1="401.80" y1="219.05" x2="406.40" y2="219.05" stroke="#000" stroke-width="1.45"/>
<text textLength="8.10" lengthAdjust="spacingAndGlyphs" x="389.80" y="222.27" font-size="9.0" fill="#111" stroke="#111" stroke-width="0.15">20</text>
<line x1="401.80" y1="242.50" x2="406.40" y2="242.50" stroke="#000" stroke-width="1.45"/>
<text textLength="4.05" lengthAdjust="spacingAndGlyphs" x="393.85" y="245.52" font-size="9.0" fill="#111" stroke="#111" stroke-width="0.15">0</text>
<line x1="405.80" y1="242.50" x2="501.60" y2="242.50" stroke="#000" stroke-width="1.45"/>
<line x1="414.50" y1="242.30" x2="414.50" y2="246.40" stroke="#000" stroke-width="1.45"/>
<line x1="427.00" y1="242.30" x2="427.00" y2="246.40" stroke="#000" stroke-width="1.45"/>
<line x1="447.50" y1="242.30" x2="447.50" y2="246.40" stroke="#000" stroke-width="1.45"/>
<line x1="459.50" y1="242.30" x2="459.50" y2="246.40" stroke="#000" stroke-width="1.45"/>
<line x1="480.50" y1="242.30" x2="480.50" y2="246.40" stroke="#000" stroke-width="1.45"/>
<line x1="492.50" y1="242.30" x2="492.50" y2="246.40" stroke="#000" stroke-width="1.45"/>
<line x1="414.80" y1="154.20" x2="427.20" y2="154.20" stroke="#000" stroke-width="1.3"/>
<text textLength="11.20" lengthAdjust="spacingAndGlyphs" x="415.40" y="154.40" font-size="9" font-weight="bold">***</text>
<line x1="446.80" y1="200.50" x2="460.00" y2="200.50" stroke="#000" stroke-width="1.3"/>
<text textLength="11.20" lengthAdjust="spacingAndGlyphs" x="447.80" y="200.70" font-size="9" font-weight="bold">***</text>
<text textLength="74.00" lengthAdjust="spacingAndGlyphs" transform="translate(381.60 202.30) rotate(-90)" x="-37.00" y="0" font-size="9.4" fill="#111" stroke="#111" stroke-width="0.15">Phases of cell cycle (%)</text>
<circle cx="487.40" cy="151.90" r="2.40" fill="#fff" stroke="#2c10a6" stroke-width="1.7"/>
<text textLength="9.60" lengthAdjust="spacingAndGlyphs" x="492.20" y="154.60" font-size="8.4" fill="#111" stroke="#111" stroke-width="0.2">G1</text>
<circle cx="487.40" cy="161.20" r="2.40" fill="#fff" stroke="#ff6a00" stroke-width="1.7"/>
<text textLength="4.60" lengthAdjust="spacingAndGlyphs" x="492.20" y="163.90" font-size="8.4" fill="#111" stroke="#111" stroke-width="0.2">S</text>
<circle cx="487.40" cy="170.40" r="2.40" fill="#fff" stroke="#0c1c4c" stroke-width="1.7"/>
<text textLength="10.00" lengthAdjust="spacingAndGlyphs" x="492.20" y="173.10" font-size="8.4" fill="#111" stroke="#111" stroke-width="0.2">G2</text>
<text textLength="27.64" lengthAdjust="spacingAndGlyphs" transform="translate(418.40 252.00) rotate(-45)" x="-27.64" y="0" font-size="7.8" fill="#111" stroke="#111" stroke-width="0.15">Control</text>
<text textLength="29.14" lengthAdjust="spacingAndGlyphs" transform="translate(430.80 252.80) rotate(-45)" x="-29.14" y="0" font-size="7.8" fill="#111" stroke="#111" stroke-width="0.15">MB1-47</text>
<text textLength="27.64" lengthAdjust="spacingAndGlyphs" transform="translate(451.40 252.00) rotate(-45)" x="-27.64" y="0" font-size="7.8" fill="#111" stroke="#111" stroke-width="0.15">Control</text>
<text textLength="29.14" lengthAdjust="spacingAndGlyphs" transform="translate(463.60 252.80) rotate(-45)" x="-29.14" y="0" font-size="7.8" fill="#111" stroke="#111" stroke-width="0.15">MB1-47</text>
<text textLength="27.64" lengthAdjust="spacingAndGlyphs" transform="translate(484.40 252.00) rotate(-45)" x="-27.64" y="0" font-size="7.8" fill="#111" stroke="#111" stroke-width="0.15">Control</text>
<text textLength="29.14" lengthAdjust="spacingAndGlyphs" transform="translate(496.60 252.80) rotate(-45)" x="-29.14" y="0" font-size="7.8" fill="#111" stroke="#111" stroke-width="0.15">MB1-47</text>
<text textLength="12.80" lengthAdjust="spacingAndGlyphs" x="27.60" y="295.60" font-size="17" stroke="#000" stroke-width="0.6">G</text>
<text textLength="162.40" lengthAdjust="spacingAndGlyphs" x="50.70" y="298.20" font-size="8.8" fill="#111" stroke="#111" stroke-width="0.2">NOTCH1-induced <tspan font-style="italic">Pten</tspan>-positive T-ALL</text>
<path d="M67.20 308.50 H131.72 V327.26 H134.52 V336.64 H142.94 V346.02 H145.74 V364.78 H159.77 V374.16 H179.40 V383.54 H182.21 V402.30" fill="none" stroke="#1246c8" stroke-width="1.45" stroke-linejoin="miter"/>
<path d="M67.20 308.50 H100.86 V336.64 H103.67 V346.02 H106.47 V364.78 H109.28 V383.54 H112.08 V392.92 H123.30 V402.30" fill="none" stroke="#d2101f" stroke-width="1.45" stroke-linejoin="miter"/>
<line x1="67.50" y1="307.77" x2="67.50" y2="403.03" stroke="#000" stroke-width="1.45"/>
<line x1="63.80" y1="308.50" x2="67.20" y2="308.50" stroke="#000" stroke-width="1.45"/>
<text textLength="11.85" lengthAdjust="spacingAndGlyphs" x="49.35" y="311.79" font-size="9.2" fill="#111" stroke="#111" stroke-width="0.15">100</text>
<line x1="63.80" y1="327.50" x2="67.20" y2="327.50" stroke="#000" stroke-width="1.45"/>
<text textLength="7.90" lengthAdjust="spacingAndGlyphs" x="53.30" y="330.55" font-size="9.2" fill="#111" stroke="#111" stroke-width="0.15">80</text>
<line x1="63.80" y1="346.02" x2="67.20" y2="346.02" stroke="#000" stroke-width="1.45"/>
<text textLength="7.90" lengthAdjust="spacingAndGlyphs" x="53.30" y="349.31" font-size="9.2" fill="#111" stroke="#111" stroke-width="0.15">60</text>
<line x1="63.80" y1="364.50" x2="67.20" y2="364.50" stroke="#000" stroke-width="1.45"/>
<text textLength="7.90" lengthAdjust="spacingAndGlyphs" x="53.30" y="368.07" font-size="9.2" fill="#111" stroke="#111" stroke-width="0.15">40</text>
<line x1="63.80" y1="383.50" x2="67.20" y2="383.50" stroke="#000" stroke-width="1.45"/>
<text textLength="7.90" lengthAdjust="spacingAndGlyphs" x="53.30" y="386.83" font-size="9.2" fill="#111" stroke="#111" stroke-width="0.15">20</text>
<line x1="63.80" y1="402.50" x2="67.20" y2="402.50" stroke="#000" stroke-width="1.45"/>
<text textLength="3.95" lengthAdjust="spacingAndGlyphs" x="57.25" y="405.59" font-size="9.2" fill="#111" stroke="#111" stroke-width="0.15">0</text>
<line x1="66.60" y1="402.50" x2="208.10" y2="402.50" stroke="#000" stroke-width="1.35"/>
<line x1="67.50" y1="402.30" x2="67.50" y2="405.40" stroke="#000" stroke-width="1.35"/>
<text textLength="3.95" lengthAdjust="spacingAndGlyphs" x="65.33" y="413.60" font-size="9.2" fill="#111" stroke="#111" stroke-width="0.15">0</text>
<line x1="95.50" y1="402.30" x2="95.50" y2="405.40" stroke="#000" stroke-width="1.35"/>
<text textLength="7.90" lengthAdjust="spacingAndGlyphs" x="91.40" y="413.60" font-size="9.2" fill="#111" stroke="#111" stroke-width="0.15">10</text>
<line x1="123.50" y1="402.30" x2="123.50" y2="405.40" stroke="#000" stroke-width="1.35"/>
<text textLength="7.90" lengthAdjust="spacingAndGlyphs" x="119.45" y="413.60" font-size="9.2" fill="#111" stroke="#111" stroke-width="0.15">20</text>
<line x1="151.50" y1="402.30" x2="151.50" y2="405.40" stroke="#000" stroke-width="1.35"/>
<text textLength="7.90" lengthAdjust="spacingAndGlyphs" x="147.50" y="413.60" font-size="9.2" fill="#111" stroke="#111" stroke-width="0.15">30</text>
<line x1="179.50" y1="402.30" x2="179.50" y2="405.40" stroke="#000" stroke-width="1.35"/>
<text textLength="7.90" lengthAdjust="spacingAndGlyphs" x="175.55" y="413.60" font-size="9.2" fill="#111" stroke="#111" stroke-width="0.15">40</text>
<line x1="207.50" y1="402.30" x2="207.50" y2="405.40" stroke="#000" stroke-width="1.35"/>
<text textLength="7.90" lengthAdjust="spacingAndGlyphs" x="203.55" y="413.60" font-size="9.2" fill="#111" stroke="#111" stroke-width="0.15">50</text>
<text textLength="39.80" lengthAdjust="spacingAndGlyphs" transform="translate(45.30 355.40) rotate(-90)" x="-19.90" y="0" font-size="9.6" fill="#111" stroke="#111" stroke-width="0.15">Survival (%)</text>
<text textLength="37.80" lengthAdjust="spacingAndGlyphs" x="115.40" y="426.30" font-size="9.6" fill="#111" stroke="#111" stroke-width="0.15">Time (days)</text>
<line x1="162.00" y1="311.80" x2="172.60" y2="311.80" stroke="#d2101f" stroke-width="1.3"/>
<line x1="162.00" y1="323.20" x2="172.60" y2="323.20" stroke="#1246c8" stroke-width="1.6"/>
<text textLength="31.70" lengthAdjust="spacingAndGlyphs" x="178.70" y="315.00" font-size="9.2" fill="#111" stroke="#111" stroke-width="0.15">Control</text>
<text textLength="33.10" lengthAdjust="spacingAndGlyphs" x="178.70" y="326.60" font-size="9.2" fill="#111" stroke="#111" stroke-width="0.15">MB1-47</text>
<line x1="118.00" y1="388.50" x2="177.40" y2="388.50" stroke="#000" stroke-width="1.35"/>
<polygon points="180.60,388.50 176.60,390.80 176.60,386.20" fill="#000"/>
<polygon points="114.80,388.50 118.80,390.80 118.80,386.20" fill="#000"/>
<text textLength="15.00" lengthAdjust="spacingAndGlyphs" x="138.80" y="390.20" font-size="10.5" font-weight="bold">***</text>
<text textLength="12.65" lengthAdjust="spacingAndGlyphs" x="266.00" y="295.60" font-size="17" stroke="#000" stroke-width="0.35">H</text>
<text textLength="162.60" lengthAdjust="spacingAndGlyphs" x="298.20" y="298.20" font-size="8.8" fill="#111" stroke="#111" stroke-width="0.2">NOTCH1-induced <tspan font-style="italic">Pten</tspan>-deleted T-ALL</text>
<path d="M314.40 308.80 H370.32 V318.26 H398.28 V327.72 H402.94 V337.18 H412.26 V375.02 H416.92 V384.48 H435.56 V403.40" fill="none" stroke="#1246c8" stroke-width="1.45" stroke-linejoin="miter"/>
<path d="M314.40 308.80 H365.66 V365.56 H370.32 V393.94 H374.98 V403.40" fill="none" stroke="#d2101f" stroke-width="1.45" stroke-linejoin="miter"/>
<line x1="314.50" y1="308.07" x2="314.50" y2="404.12" stroke="#000" stroke-width="1.45"/>
<line x1="311.00" y1="308.80" x2="314.40" y2="308.80" stroke="#000" stroke-width="1.45"/>
<text textLength="11.85" lengthAdjust="spacingAndGlyphs" x="297.65" y="312.09" font-size="9.2" fill="#111" stroke="#111" stroke-width="0.15">100</text>
<line x1="311.00" y1="327.50" x2="314.40" y2="327.50" stroke="#000" stroke-width="1.45"/>
<text textLength="7.90" lengthAdjust="spacingAndGlyphs" x="301.60" y="331.01" font-size="9.2" fill="#111" stroke="#111" stroke-width="0.15">80</text>
<line x1="311.00" y1="346.50" x2="314.40" y2="346.50" stroke="#000" stroke-width="1.45"/>
<text textLength="7.90" lengthAdjust="spacingAndGlyphs" x="301.60" y="349.93" font-size="9.2" fill="#111" stroke="#111" stroke-width="0.15">60</text>
<line x1="311.00" y1="365.50" x2="314.40" y2="365.50" stroke="#000" stroke-width="1.45"/>
<text textLength="7.90" lengthAdjust="spacingAndGlyphs" x="301.60" y="368.85" font-size="9.2" fill="#111" stroke="#111" stroke-width="0.15">40</text>
<line x1="311.00" y1="384.50" x2="314.40" y2="384.50" stroke="#000" stroke-width="1.45"/>
<text textLength="7.90" lengthAdjust="spacingAndGlyphs" x="301.60" y="387.77" font-size="9.2" fill="#111" stroke="#111" stroke-width="0.15">20</text>
<line x1="311.00" y1="403.50" x2="314.40" y2="403.50" stroke="#000" stroke-width="1.45"/>
<text textLength="3.95" lengthAdjust="spacingAndGlyphs" x="305.55" y="406.69" font-size="9.2" fill="#111" stroke="#111" stroke-width="0.15">0</text>
<line x1="313.80" y1="403.50" x2="454.80" y2="403.50" stroke="#000" stroke-width="1.35"/>
<line x1="314.50" y1="403.40" x2="314.50" y2="406.50" stroke="#000" stroke-width="1.35"/>
<text textLength="3.95" lengthAdjust="spacingAndGlyphs" x="312.42" y="415.20" font-size="9.2" fill="#111" stroke="#111" stroke-width="0.15">0</text>
<line x1="361.00" y1="403.40" x2="361.00" y2="406.50" stroke="#000" stroke-width="1.35"/>
<text textLength="7.90" lengthAdjust="spacingAndGlyphs" x="357.05" y="415.20" font-size="9.2" fill="#111" stroke="#111" stroke-width="0.15">10</text>
<line x1="407.50" y1="403.40" x2="407.50" y2="406.50" stroke="#000" stroke-width="1.35"/>
<text textLength="7.90" lengthAdjust="spacingAndGlyphs" x="403.65" y="415.20" font-size="9.2" fill="#111" stroke="#111" stroke-width="0.15">20</text>
<line x1="454.20" y1="403.40" x2="454.20" y2="406.50" stroke="#000" stroke-width="1.35"/>
<text textLength="7.90" lengthAdjust="spacingAndGlyphs" x="450.25" y="415.20" font-size="9.2" fill="#111" stroke="#111" stroke-width="0.15">30</text>
<text textLength="39.80" lengthAdjust="spacingAndGlyphs" transform="translate(295.80 356.10) rotate(-90)" x="-19.90" y="0" font-size="9.6" fill="#111" stroke="#111" stroke-width="0.15">Survival (%)</text>
<text textLength="37.80" lengthAdjust="spacingAndGlyphs" x="361.60" y="426.50" font-size="9.6" fill="#111" stroke="#111" stroke-width="0.15">Time (days)</text>
<line x1="409.10" y1="311.90" x2="419.80" y2="311.90" stroke="#d2101f" stroke-width="1.0"/>
<line x1="409.10" y1="322.50" x2="419.80" y2="322.50" stroke="#1246c8" stroke-width="1.6"/>
<text textLength="31.50" lengthAdjust="spacingAndGlyphs" x="422.50" y="313.80" font-size="9.2" fill="#111" stroke="#111" stroke-width="0.15">Control</text>
<text textLength="32.90" lengthAdjust="spacingAndGlyphs" x="422.50" y="325.80" font-size="9.2" fill="#111" stroke="#111" stroke-width="0.15">MB1-47</text>
<line x1="379.90" y1="394.50" x2="430.10" y2="394.50" stroke="#000" stroke-width="1.35"/>
<polygon points="433.30,394.60 429.30,396.90 429.30,392.30" fill="#000"/>
<polygon points="376.70,394.60 380.70,396.90 380.70,392.30" fill="#000"/>
<text textLength="15.00" lengthAdjust="spacingAndGlyphs" x="395.90" y="396.40" font-size="10.5" font-weight="bold">***</text>
<text x="27.50" y="442.80" font-size="17" stroke="#000" stroke-width="0.35">I</text>
<text textLength="26.40" lengthAdjust="spacingAndGlyphs" x="82.40" y="452.50" font-size="9.2" fill="#111" font-style="italic" stroke="#111" stroke-width="0.15">Ampk</text>
<text textLength="22.60" lengthAdjust="spacingAndGlyphs" x="109.20" y="449.30" font-size="5.2" fill="#111">flox/flox</text>
<text textLength="36.00" lengthAdjust="spacingAndGlyphs" x="134.00" y="452.50" font-size="9.2" fill="#111" stroke="#111" stroke-width="0.15">Rosa 26</text>
<text textLength="31.80" lengthAdjust="spacingAndGlyphs" x="170.60" y="449.30" font-size="5.2" fill="#111">Cre-ERT2/+</text>
<text textLength="57.10" lengthAdjust="spacingAndGlyphs" x="42.65" y="487.70" font-size="9.2" fill="#111" stroke="#111" stroke-width="0.15">Bone marrow</text>
<text textLength="84.70" lengthAdjust="spacingAndGlyphs" x="28.85" y="497.70" font-size="9.2" fill="#111" stroke="#111" stroke-width="0.15">Lin- progenitor cells</text>
<text textLength="57.10" lengthAdjust="spacingAndGlyphs" x="40.85" y="521.90" font-size="9.2" fill="#111" stroke="#111" stroke-width="0.15">Bone marrow</text>
<text textLength="42.20" lengthAdjust="spacingAndGlyphs" x="48.30" y="531.60" font-size="9.2" fill="#111" stroke="#111" stroke-width="0.15">transplant</text>
<text textLength="82.70" lengthAdjust="spacingAndGlyphs" x="162.45" y="485.60" font-size="9.2" fill="#111" stroke="#111" stroke-width="0.15">Retroviral infection:</text>
<text textLength="75.20" lengthAdjust="spacingAndGlyphs" x="165.80" y="495.40" font-size="9.2" fill="#111" stroke="#111" stroke-width="0.15">ΔE-NOTCH1/GFP</text>
<g transform="translate(131.00 466.30) scale(1.000)">
<path d="M-13.2 3 C-16 3.6 -18.5 3.3 -20.8 2.9 C-23 2.4 -25 1.9 -27.5 2.1 C-30 2.4 -31.8 3 -32.9 3.9 C-34.2 4.9 -34.9 5.8 -34.9 6.6 C-35 7.6 -34.8 8.6 -34.5 9.3" fill="none" stroke="#8e2a30" stroke-width="1.3" stroke-linecap="round"/>
<path d="M-10 5.6 L-7.4 7.9 L-4.6 7.3 M8.1 5.4 L9.5 7.6 L12.8 7.1" stroke="#8e2a30" stroke-width="1.1" stroke-linecap="round" stroke-linejoin="round" fill="none"/>
<path d="M-13.4 2.5 C-13 -0.5 -11.5 -3 -10 -4 C-8.5 -5.8 -6.5 -7 -4.7 -7.3 C-2 -8.2 1 -8.3 3.4 -8 C5 -7.8 6 -7.4 6.8 -7 C7.5 -8.5 8.3 -10 9.3 -10.2 C10.3 -9.6 11 -8 11.2 -6.9 C12.5 -6.7 13.8 -6.2 14.9 -5.6 C16.3 -4.9 17.6 -3.9 18.2 -2.9 C18.3 -2.2 17.5 -1.4 15.5 -0.2 C14 0.9 12.3 1.8 10.8 2.5 C9.8 3.8 8.8 4.9 7.5 5.6 C5 6.3 2 6.3 -0.6 6.2 C-3.5 6.3 -6.5 6.3 -8.7 5.9 C-10.5 5.6 -11.8 5.1 -12.5 4.3 C-13 3.7 -13.4 3.1 -13.4 2.5 Z" fill="#170606"/>
<path d="M7.6 -6.2 L8.6 -3.6" stroke="#c06068" stroke-width="1.15" stroke-linecap="round"/>
</g>
<line x1="133.50" y1="474.40" x2="133.50" y2="478.64" stroke="#000" stroke-width="1.2"/>
<polygon points="133.30,481.20 130.20,478.00 136.40,478.00" fill="#000"/>
<circle cx="131.90" cy="489.30" r="6.60" fill="#bb4ae8"/>
<circle cx="132.00" cy="489.90" r="3.60" fill="#8c20ee"/>
<circle cx="125.00" cy="482.10" r="2.20" fill="#aa32ea"/>
<circle cx="119.50" cy="489.90" r="2.30" fill="#aa32ea"/>
<circle cx="123.80" cy="496.50" r="2.20" fill="#aa32ea"/>
<circle cx="148.60" cy="485.80" r="5.10" fill="#fff" stroke="#2455b8" stroke-width="1.3" stroke-dasharray="1.3 0.45"/>
<circle cx="148.60" cy="485.80" r="3.70" fill="#f4fbf0" stroke="#8fb4e6" stroke-width="0.5"/>
<ellipse cx="148.7" cy="485.9" rx="2.7" ry="2.1" fill="#48dc16"/>
<circle cx="140.30" cy="487.00" r="1.50" fill="#f2faf2" stroke="#4f7fcc" stroke-width="0.65"/>
<circle cx="138.80" cy="489.40" r="1.50" fill="#f2faf2" stroke="#4f7fcc" stroke-width="0.65"/>
<circle cx="143.40" cy="490.50" r="1.50" fill="#f2faf2" stroke="#4f7fcc" stroke-width="0.65"/>
<circle cx="141.00" cy="490.60" r="1.50" fill="#f2faf2" stroke="#4f7fcc" stroke-width="0.65"/>
<line x1="133.50" y1="496.40" x2="133.50" y2="501.04" stroke="#000" stroke-width="1.2"/>
<polygon points="133.30,503.60 130.20,500.40 136.40,500.40" fill="#000"/>
<ellipse cx="133.6" cy="510.6" rx="7.3" ry="6.3" fill="#5cee20"/>
<ellipse cx="134.8" cy="510.7" rx="3.8" ry="3.1" fill="#34c416"/>
<line x1="133.50" y1="517.60" x2="133.50" y2="522.24" stroke="#000" stroke-width="1.2"/>
<polygon points="133.30,524.80 130.20,521.60 136.40,521.60" fill="#000"/>
<path d="M114.6 538 C110 537.6 108 537 105 537 C100 536.8 96 538 93.4 540.4 C92 542 91.8 543.5 92.4 544.8" fill="none" stroke="#8e2a30" stroke-width="1.2" stroke-linecap="round"/>
<path d="M108 550.2 C104 549.6 100 549.6 96 550 C92 550.4 89 551.4 87.6 552.8 C86.4 554.2 86.2 555.6 86.6 556.9" fill="none" stroke="#8e2a30" stroke-width="1.2" stroke-linecap="round"/>
<path d="M112.5 547 C109.5 546 107.2 544.2 108 541.8 C109 540 112 540.2 114.8 541" fill="none" stroke="#8e2a30" stroke-width="1.2" stroke-linecap="round"/>
<path d="M110.4 556.6 C109.6 554.8 111.5 553.4 115 553.6 C122 554.2 127 554.2 131 553.2 C133 553.4 134.5 555 137.5 556.2" fill="none" stroke="#8e2a30" stroke-width="1.2" stroke-linecap="round"/>
<g transform="translate(127.50 535.50) scale(0.980)">
<path d="M-13.4 2.5 C-13 -0.5 -11.5 -3 -10 -4 C-8.5 -5.8 -6.5 -7 -4.7 -7.3 C-2 -8.2 1 -8.3 3.4 -8 C5 -7.8 6 -7.4 6.8 -7 C7.5 -8.5 8.3 -10 9.3 -10.2 C10.3 -9.6 11 -8 11.2 -6.9 C12.5 -6.7 13.8 -6.2 14.9 -5.6 C16.3 -4.9 17.6 -3.9 18.2 -2.9 C18.3 -2.2 17.5 -1.4 15.5 -0.2 C14 0.9 12.3 1.8 10.8 2.5 C9.8 3.8 8.8 4.9 7.5 5.6 C5 6.3 2 6.3 -0.6 6.2 C-3.5 6.3 -6.5 6.3 -8.7 5.9 C-10.5 5.6 -11.8 5.1 -12.5 4.3 C-13 3.7 -13.4 3.1 -13.4 2.5 Z" fill="#170606"/>
<path d="M7.6 -6.2 L8.6 -3.6" stroke="#c06068" stroke-width="1.15" stroke-linecap="round"/>
</g>
<g transform="translate(141.20 539.60) scale(0.950)">
<path d="M-13.4 2.5 C-13 -0.5 -11.5 -3 -10 -4 C-8.5 -5.8 -6.5 -7 -4.7 -7.3 C-2 -8.2 1 -8.3 3.4 -8 C5 -7.8 6 -7.4 6.8 -7 C7.5 -8.5 8.3 -10 9.3 -10.2 C10.3 -9.6 11 -8 11.2 -6.9 C12.5 -6.7 13.8 -6.2 14.9 -5.6 C16.3 -4.9 17.6 -3.9 18.2 -2.9 C18.3 -2.2 17.5 -1.4 15.5 -0.2 C14 0.9 12.3 1.8 10.8 2.5 C9.8 3.8 8.8 4.9 7.5 5.6 C5 6.3 2 6.3 -0.6 6.2 C-3.5 6.3 -6.5 6.3 -8.7 5.9 C-10.5 5.6 -11.8 5.1 -12.5 4.3 C-13 3.7 -13.4 3.1 -13.4 2.5 Z" fill="#170606"/>
<path d="M7.6 -6.2 L8.6 -3.6" stroke="#c06068" stroke-width="1.15" stroke-linecap="round"/>
</g>
<g transform="translate(120.20 548.30) scale(0.920)">
<path d="M-10 5.6 L-7.4 7.9 L-4.6 7.3 M8.1 5.4 L9.5 7.6 L12.8 7.1" stroke="#8e2a30" stroke-width="1.1" stroke-linecap="round" stroke-linejoin="round" fill="none"/>
<path d="M-13.4 2.5 C-13 -0.5 -11.5 -3 -10 -4 C-8.5 -5.8 -6.5 -7 -4.7 -7.3 C-2 -8.2 1 -8.3 3.4 -8 C5 -7.8 6 -7.4 6.8 -7 C7.5 -8.5 8.3 -10 9.3 -10.2 C10.3 -9.6 11 -8 11.2 -6.9 C12.5 -6.7 13.8 -6.2 14.9 -5.6 C16.3 -4.9 17.6 -3.9 18.2 -2.9 C18.3 -2.2 17.5 -1.4 15.5 -0.2 C14 0.9 12.3 1.8 10.8 2.5 C9.8 3.8 8.8 4.9 7.5 5.6 C5 6.3 2 6.3 -0.6 6.2 C-3.5 6.3 -6.5 6.3 -8.7 5.9 C-10.5 5.6 -11.8 5.1 -12.5 4.3 C-13 3.7 -13.4 3.1 -13.4 2.5 Z" fill="#170606"/>
<path d="M7.6 -6.2 L8.6 -3.6" stroke="#c06068" stroke-width="1.15" stroke-linecap="round"/>
</g>
<g transform="translate(145.20 549.00) scale(1.000)">
<path d="M-10 5.6 L-7.4 7.9 L-4.6 7.3 M8.1 5.4 L9.5 7.6 L12.8 7.1" stroke="#8e2a30" stroke-width="1.1" stroke-linecap="round" stroke-linejoin="round" fill="none"/>
<path d="M-13.4 2.5 C-13 -0.5 -11.5 -3 -10 -4 C-8.5 -5.8 -6.5 -7 -4.7 -7.3 C-2 -8.2 1 -8.3 3.4 -8 C5 -7.8 6 -7.4 6.8 -7 C7.5 -8.5 8.3 -10 9.3 -10.2 C10.3 -9.6 11 -8 11.2 -6.9 C12.5 -6.7 13.8 -6.2 14.9 -5.6 C16.3 -4.9 17.6 -3.9 18.2 -2.9 C18.3 -2.2 17.5 -1.4 15.5 -0.2 C14 0.9 12.3 1.8 10.8 2.5 C9.8 3.8 8.8 4.9 7.5 5.6 C5 6.3 2 6.3 -0.6 6.2 C-3.5 6.3 -6.5 6.3 -8.7 5.9 C-10.5 5.6 -11.8 5.1 -12.5 4.3 C-13 3.7 -13.4 3.1 -13.4 2.5 Z" fill="#170606"/>
<path d="M7.6 -6.2 L8.6 -3.6" stroke="#c06068" stroke-width="1.15" stroke-linecap="round"/>
</g>
<text textLength="130.10" lengthAdjust="spacingAndGlyphs" x="77.30" y="569.00" font-size="9.2" fill="#111" stroke="#111" stroke-width="0.15">ΔE-NOTCH1-induced T-ALL</text>
<line x1="133.50" y1="570.80" x2="133.50" y2="576.04" stroke="#000" stroke-width="1.2"/>
<polygon points="133.30,578.60 130.20,575.40 136.40,575.40" fill="#000"/>
<text textLength="140.70" lengthAdjust="spacingAndGlyphs" x="72.00" y="587.40" font-size="9.2" fill="#111" stroke="#111" stroke-width="0.15">Transplant into 2ary recipients</text>
<line x1="130.40" y1="589.20" x2="105.45" y2="603.78" stroke="#000" stroke-width="1.5"/>
<polygon points="102.00,605.80 104.95,600.95 107.68,605.61" fill="#000"/>
<line x1="136.90" y1="589.20" x2="161.17" y2="603.74" stroke="#000" stroke-width="1.5"/>
<polygon points="164.60,605.80 158.92,605.55 161.70,600.91" fill="#000"/>
<text textLength="30.50" lengthAdjust="spacingAndGlyphs" x="68.55" y="617.40" font-size="9.2" fill="#111" stroke="#111" stroke-width="0.15">Vehicle</text>
<text textLength="42.00" lengthAdjust="spacingAndGlyphs" x="63.90" y="626.10" font-size="9.2" fill="#111" stroke="#111" stroke-width="0.15">Ampk ON</text>
<text textLength="44.50" lengthAdjust="spacingAndGlyphs" x="158.95" y="617.40" font-size="9.2" fill="#d81c38" stroke="#d81c38" stroke-width="0.15">Tamoxifen</text>
<text textLength="46.20" lengthAdjust="spacingAndGlyphs" x="158.20" y="626.10" font-size="9.2" fill="#d81c38" stroke="#d81c38" stroke-width="0.15">Ampk OFF</text>
<line x1="80.50" y1="631.90" x2="55.71" y2="647.11" stroke="#000" stroke-width="1.5"/>
<polygon points="52.30,649.20 55.15,644.28 57.97,648.89" fill="#000"/>
<line x1="88.10" y1="631.90" x2="111.83" y2="647.05" stroke="#000" stroke-width="1.5"/>
<polygon points="115.20,649.20 109.53,648.79 112.44,644.23" fill="#000"/>
<line x1="177.30" y1="631.90" x2="152.32" y2="647.12" stroke="#000" stroke-width="1.5"/>
<polygon points="148.90,649.20 151.77,644.29 154.57,648.90" fill="#000"/>
<line x1="184.70" y1="631.90" x2="208.62" y2="647.06" stroke="#000" stroke-width="1.5"/>
<polygon points="212.00,649.20 206.33,648.80 209.22,644.24" fill="#000"/>
<text textLength="31.80" lengthAdjust="spacingAndGlyphs" x="33.20" y="658.90" font-size="9.2" fill="#d81c38" stroke="#d81c38" stroke-width="0.15">Control</text>
<text textLength="32.70" lengthAdjust="spacingAndGlyphs" x="95.80" y="658.90" font-size="9.2" fill="#1e50c4" stroke="#1e50c4" stroke-width="0.15">MB1-47</text>
<text textLength="31.60" lengthAdjust="spacingAndGlyphs" x="138.80" y="658.90" font-size="9.2" fill="#d81c38" stroke="#d81c38" stroke-width="0.15">Control</text>
<text textLength="32.30" lengthAdjust="spacingAndGlyphs" x="202.10" y="658.90" font-size="9.2" fill="#1e50c4" stroke="#1e50c4" stroke-width="0.15">MB1-47</text>
<text textLength="9.80" lengthAdjust="spacingAndGlyphs" x="264.90" y="442.70" font-size="17">J</text>
<text textLength="9.80" lengthAdjust="spacingAndGlyphs" x="265.30" y="442.70" font-size="17">J</text>
<rect x="266.50" y="430.00" width="4.45" height="3.20" fill="#fff"/>
<text textLength="183.70" lengthAdjust="spacingAndGlyphs" x="290.20" y="482.60" font-size="8.8" fill="#111" stroke="#111" stroke-width="0.2">NOTCH1-induced <tspan font-style="italic">Ampk</tspan>-conditional T-ALL</text>
<path d="M307.00 499.30 H391.00 V508.70 H394.50 V518.10 H398.00 V546.30 H401.50 V555.70 H405.00 V574.50 H415.50 V583.90 H419.00 V593.30" fill="none" stroke="#3014a8" stroke-width="1.45" stroke-linejoin="miter"/>
<path d="M307.00 499.30 H405.00 V508.70 H412.00 V518.10 H415.50 V546.30 H419.00 V555.70 H422.50 V583.90 H426.00 V593.30" fill="none" stroke="#1246c8" stroke-width="1.45" stroke-linejoin="miter"/>
<path d="M307.00 499.30 H370.00 V508.70 H377.00 V536.90 H380.50 V546.30 H387.50 V555.70 H391.00 V565.10 H394.50 V574.50 H398.00 V583.90 H405.00 V593.30" fill="none" stroke="#4dee1a" stroke-width="1.45" stroke-linejoin="miter"/>
<path d="M307.00 499.30 H370.00 V518.10 H373.50 V536.90 H377.00 V546.30 H391.00 V555.70 H394.50 V583.90 H405.00 V593.30" fill="none" stroke="#d2101f" stroke-width="1.45" stroke-linejoin="miter"/>
<line x1="307.00" y1="498.57" x2="307.00" y2="594.02" stroke="#000" stroke-width="1.45"/>
<line x1="303.60" y1="499.50" x2="307.00" y2="499.50" stroke="#000" stroke-width="1.45"/>
<text textLength="11.85" lengthAdjust="spacingAndGlyphs" x="290.55" y="502.59" font-size="9.2" fill="#111" stroke="#111" stroke-width="0.15">100</text>
<line x1="303.60" y1="518.10" x2="307.00" y2="518.10" stroke="#000" stroke-width="1.45"/>
<text textLength="7.90" lengthAdjust="spacingAndGlyphs" x="294.50" y="521.39" font-size="9.2" fill="#111" stroke="#111" stroke-width="0.15">80</text>
<line x1="303.60" y1="536.90" x2="307.00" y2="536.90" stroke="#000" stroke-width="1.45"/>
<text textLength="7.90" lengthAdjust="spacingAndGlyphs" x="294.50" y="540.19" font-size="9.2" fill="#111" stroke="#111" stroke-width="0.15">60</text>
<line x1="303.60" y1="555.50" x2="307.00" y2="555.50" stroke="#000" stroke-width="1.45"/>
<text textLength="7.90" lengthAdjust="spacingAndGlyphs" x="294.50" y="558.99" font-size="9.2" fill="#111" stroke="#111" stroke-width="0.15">40</text>
<line x1="303.60" y1="574.50" x2="307.00" y2="574.50" stroke="#000" stroke-width="1.45"/>
<text textLength="7.90" lengthAdjust="spacingAndGlyphs" x="294.50" y="577.79" font-size="9.2" fill="#111" stroke="#111" stroke-width="0.15">20</text>
<line x1="303.60" y1="593.50" x2="307.00" y2="593.50" stroke="#000" stroke-width="1.45"/>
<text textLength="3.95" lengthAdjust="spacingAndGlyphs" x="298.45" y="596.59" font-size="9.2" fill="#111" stroke="#111" stroke-width="0.15">0</text>
<line x1="306.40" y1="593.50" x2="447.50" y2="593.50" stroke="#000" stroke-width="1.35"/>
<line x1="307.00" y1="593.30" x2="307.00" y2="596.40" stroke="#000" stroke-width="1.35"/>
<text textLength="3.95" lengthAdjust="spacingAndGlyphs" x="305.02" y="604.80" font-size="9.2" fill="#111" stroke="#111" stroke-width="0.15">0</text>
<line x1="342.00" y1="593.30" x2="342.00" y2="596.40" stroke="#000" stroke-width="1.35"/>
<text textLength="7.90" lengthAdjust="spacingAndGlyphs" x="338.05" y="604.80" font-size="9.2" fill="#111" stroke="#111" stroke-width="0.15">10</text>
<line x1="377.00" y1="593.30" x2="377.00" y2="596.40" stroke="#000" stroke-width="1.35"/>
<text textLength="7.90" lengthAdjust="spacingAndGlyphs" x="373.05" y="604.80" font-size="9.2" fill="#111" stroke="#111" stroke-width="0.15">20</text>
<line x1="412.00" y1="593.30" x2="412.00" y2="596.40" stroke="#000" stroke-width="1.35"/>
<text textLength="7.90" lengthAdjust="spacingAndGlyphs" x="408.05" y="604.80" font-size="9.2" fill="#111" stroke="#111" stroke-width="0.15">30</text>
<line x1="447.00" y1="593.30" x2="447.00" y2="596.40" stroke="#000" stroke-width="1.35"/>
<text textLength="7.90" lengthAdjust="spacingAndGlyphs" x="443.05" y="604.80" font-size="9.2" fill="#111" stroke="#111" stroke-width="0.15">40</text>
<text textLength="39.80" lengthAdjust="spacingAndGlyphs" transform="translate(283.60 546.30) rotate(-90)" x="-19.90" y="0" font-size="9.6" fill="#111" stroke="#111" stroke-width="0.15">Survival (%)</text>
<text textLength="37.80" lengthAdjust="spacingAndGlyphs" x="353.50" y="617.60" font-size="9.6" fill="#111" stroke="#111" stroke-width="0.15">Time (days)</text>
<line x1="433.00" y1="497.10" x2="447.30" y2="497.10" stroke="#d2101f" stroke-width="1.6"/>
<text textLength="65.80" lengthAdjust="spacingAndGlyphs" x="450.80" y="499.80" font-size="9.2" fill="#111" stroke="#111" stroke-width="0.15"><tspan font-style="italic">Ampk</tspan>+,Control</text>
<line x1="433.00" y1="513.50" x2="447.30" y2="513.50" stroke="#4dee1a" stroke-width="1.6"/>
<text textLength="62.80" lengthAdjust="spacingAndGlyphs" x="450.80" y="516.30" font-size="9.2" fill="#111" stroke="#111" stroke-width="0.15"><tspan font-style="italic">Ampk</tspan>-,Control</text>
<line x1="433.00" y1="529.50" x2="447.30" y2="529.50" stroke="#1246c8" stroke-width="1.6"/>
<text textLength="67.40" lengthAdjust="spacingAndGlyphs" x="450.80" y="532.50" font-size="9.2" fill="#111" stroke="#111" stroke-width="0.15"><tspan font-style="italic">Ampk</tspan>+,MB1-47</text>
<line x1="433.00" y1="546.50" x2="447.30" y2="546.50" stroke="#3014a8" stroke-width="1.6"/>
<text textLength="64.00" lengthAdjust="spacingAndGlyphs" x="450.80" y="549.20" font-size="9.2" fill="#111" stroke="#111" stroke-width="0.15"><tspan font-style="italic">Ampk</tspan>-,MB1-47</text>
<line x1="376.34" y1="525.50" x2="412.56" y2="525.50" stroke="#000" stroke-width="1.1"/>
<polygon points="415.60,525.20 411.80,527.10 411.80,523.30" fill="#000"/>
<polygon points="373.30,525.20 377.10,527.10 377.10,523.30" fill="#000"/>
<text textLength="15.00" lengthAdjust="spacingAndGlyphs" x="391.30" y="527.60" font-size="10.5" font-weight="bold">***</text>
<line x1="401.34" y1="542.50" x2="412.16" y2="542.50" stroke="#000" stroke-width="1.1"/>
<polygon points="415.20,542.30 411.40,544.20 411.40,540.40" fill="#000"/>
<polygon points="398.30,542.30 402.10,544.20 402.10,540.40" fill="#000"/>
<text textLength="15.00" lengthAdjust="spacingAndGlyphs" x="399.40" y="544.80" font-size="10.5" font-weight="bold">***</text>
<rect x="0.5" y="0.5" width="519" height="665" fill="none" stroke="#000" stroke-width="1.2"/>
</svg>
</body>
</html>
